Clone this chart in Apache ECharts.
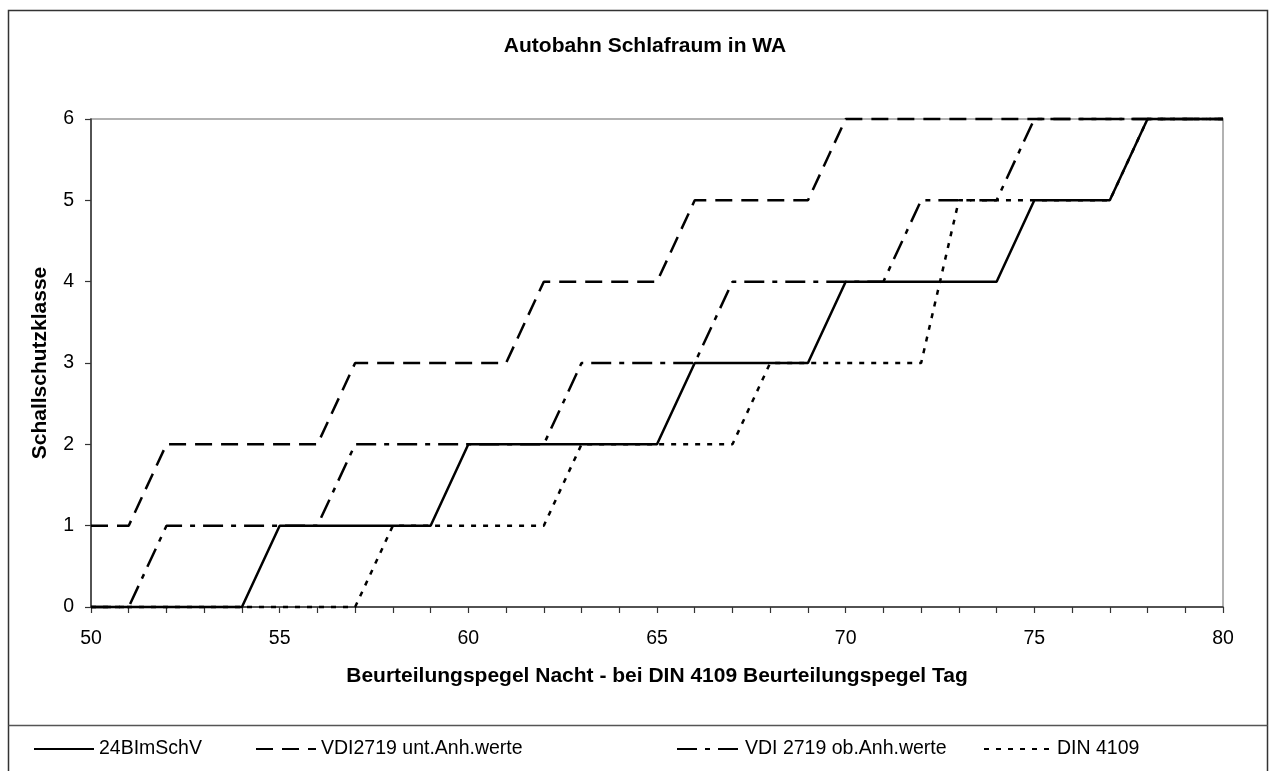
<!DOCTYPE html>
<html>
<head>
<meta charset="utf-8">
<script src="https://cdn.jsdelivr.net/npm/echarts@6/dist/echarts.min.js"></script>
<style>
html,body{margin:0;padding:0;background:#fff;}
#chart{width:1270px;height:771px;}
</style>
</head>
<body>
<div id="chart"></div>
<script>
// x values (Beurteilungspegel)
const xValues = [50,51,52,53,54,55,56,57,58,59,60,61,62,63,64,65,66,67,68,69,70,71,72,73,74,75,76,77,78,79,80];
const seriesNames = ['24BImSchV', 'VDI2719 unt.Anh.werte', 'VDI 2719 ob.Anh.werte', 'DIN 4109'];
const imSchV = [0,0,0,0,0, 1,1,1,1,1, 2,2,2,2,2,2, 3,3,3,3, 4,4,4,4,4, 5,5,5, 6,6,6];
const vdiUnt = [1,1, 2,2,2,2,2, 3,3,3,3,3, 4,4,4,4, 5,5,5,5, 6,6,6,6,6,6,6,6,6,6,6];
const vdiOb  = [0,0, 1,1,1,1,1, 2,2,2,2,2,2, 3,3,3,3, 4,4,4,4,4, 5,5,5, 6,6,6,6,6,6];
const din    = [0,0,0,0,0,0,0,0, 1,1,1,1,1, 2,2,2,2,2, 3,3,3,3,3, 5,5,5,5,5, 6,6,6];
const titleText = 'Autobahn Schlafraum in WA';
const xAxisName = 'Beurteilungspegel Nacht - bei DIN 4109 Beurteilungspegel Tag';
const yAxisName = 'Schallschutzklasse';

const FONT = "'Liberation Sans', Arial, sans-serif";
const pairs = (ys) => xValues.map((x, i) => [x, ys[i]]);
const dashStyles = ['solid', [17, 9], [20, 8, 5, 8], [5, 7]];
const allData = [imSchV, vdiUnt, vdiOb, din];

const chart = echarts.init(document.getElementById('chart'), null, {renderer: 'canvas'});

const legendPos = [
  {left: 33, itemWidth: 60},
  {left: 255, itemWidth: 60},
  {left: 676, itemWidth: 63},
  {left: 983, itemWidth: 68}
];

const option = {
  backgroundColor: '#fff',
  animation: false,
  title: {
    text: titleText,
    left: 640,
    textAlign: 'center',
    top: 31,
    textStyle: {fontFamily: FONT, fontSize: 21, fontWeight: 'bold', color: '#000'}
  },
  legend: legendPos.map((p, i) => ({
    data: [seriesNames[i]],
    left: p.left,
    top: 739,
    itemWidth: p.itemWidth,
    itemHeight: 14,
    padding: 0,
    itemStyle: {opacity: 0, borderWidth: 0},
    textStyle: {fontFamily: FONT, fontSize: 19.5, color: '#000'}
  })),
  grid: {
    left: 91, right: 47, top: 119, bottom: 164,
    show: true, borderColor: '#999', borderWidth: 1.5, backgroundColor: '#fff'
  },
  xAxis: {
    type: 'value', min: 50, max: 80, interval: 5,
    name: xAxisName, nameLocation: 'middle', nameGap: 59,
    nameTextStyle: {fontFamily: FONT, fontSize: 21, fontWeight: 'bold', color: '#000'},
    axisLine: {show: true, onZero: false, lineStyle: {color: '#333', width: 1.5}},
    axisTick: {show: true, inside: false, length: 6, lineStyle: {color: '#333', width: 1.2}},
    minorTick: {show: true, splitNumber: 5, length: 6, lineStyle: {color: '#333', width: 1.2}},
    splitLine: {show: false},
    axisLabel: {fontFamily: FONT, fontSize: 19.5, color: '#000', margin: 22}
  },
  yAxis: {
    type: 'value', min: 0, max: 6, interval: 1,
    name: yAxisName, nameLocation: 'middle', nameGap: 40, nameRotate: 90,
    nameTextStyle: {fontFamily: FONT, fontSize: 21, fontWeight: 'bold', color: '#000'},
    axisLine: {show: true, lineStyle: {color: '#333', width: 1.5}},
    axisTick: {show: true, inside: false, length: 6, lineStyle: {color: '#333', width: 1.2}},
    splitLine: {show: false},
    axisLabel: {fontFamily: FONT, fontSize: 19.5, color: '#000', margin: 17}
  },
  graphic: [
    {type: 'rect', silent: true, z: -1, shape: {x: 8.5, y: 10.5, width: 1259, height: 775},
     style: {fill: null, stroke: '#333', lineWidth: 1.5}},
    {type: 'line', silent: true, shape: {x1: 8.5, y1: 725.5, x2: 1267.5, y2: 725.5},
     style: {stroke: '#555', lineWidth: 1.5}}
  ],
  series: allData.map((d, i) => ({
    name: seriesNames[i],
    type: 'line',
    data: pairs(d),
    symbol: 'none',
    clip: false,
    lineStyle: {color: '#000', width: 2.5, type: dashStyles[i]},
    itemStyle: {color: '#000'}
  }))
};
chart.setOption(option);
</script>
</body>
</html>
